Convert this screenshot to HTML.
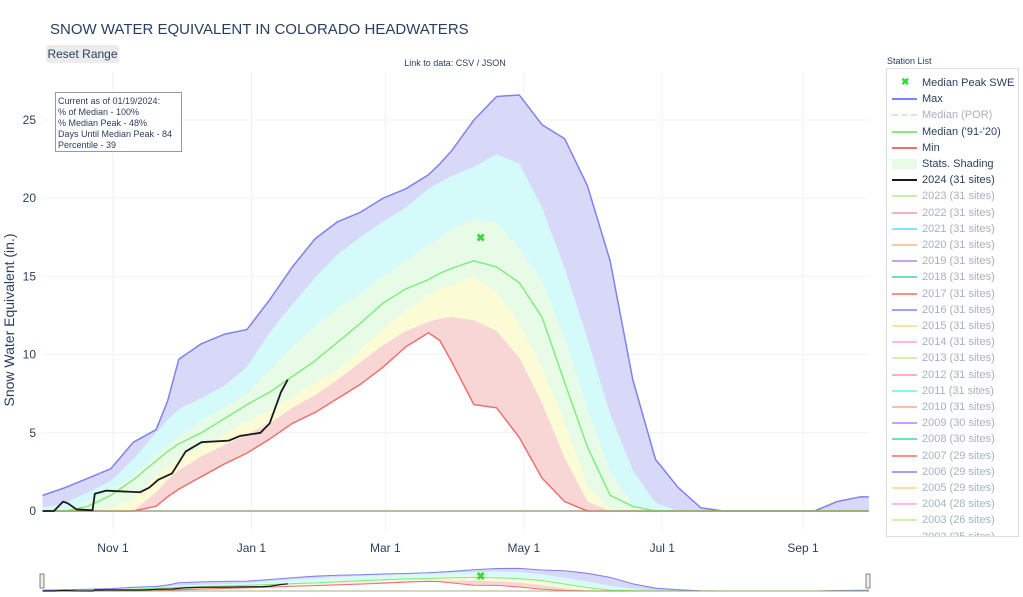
<!DOCTYPE html>
<html><head><meta charset="utf-8">
<style>
body{margin:0;width:1023px;height:597px;overflow:hidden;background:#fff;font-family:"Liberation Sans",sans-serif;}
svg{position:absolute;left:0;top:0}
</style></head>
<body>
<svg id="chart" width="1023" height="597"></svg>
<script>
const days=[0,10,20,30,40,50,55,60,70,80,90,100,110,120,130,140,150,160,170,175,180,190,200,210,220,230,240,250,260,270,280,290,300,310,320,330,340,350,360,364];
const maxVals=[1.0,1.5,2.1,2.7,4.4,5.2,7.0,9.7,10.7,11.3,11.6,13.5,15.6,17.4,18.5,19.1,20.0,20.6,21.5,22.2,23.0,25.0,26.5,26.6,24.7,23.8,20.8,16.0,8.4,3.3,1.5,0.2,0,0,0,0,0,0.6,0.9,0.9];
const p90Vals=[0.2,0.5,1.2,1.9,3.3,5.0,5.8,6.5,7.2,8.0,9.2,11.4,13.2,14.9,16.4,17.5,18.5,19.4,20.6,21.0,21.4,22.0,22.8,22.2,19.4,15.5,11.0,6.2,2.6,0.5,0,0,0,0,0,0,0,0,0,0];
const p70Vals=[0,0.1,0.6,1.3,2.2,3.6,4.2,4.7,5.8,6.6,7.5,9.0,10.5,11.8,13.0,13.9,15.0,16.0,17.0,17.5,18.0,18.7,18.4,16.8,14.7,11.0,6.5,2.5,0.4,0,0,0,0,0,0,0,0,0,0,0];
const medianVals=[0,0,0.3,1.0,2.0,3.2,3.8,4.3,5.0,5.9,6.8,7.6,8.6,9.6,10.8,12.0,13.3,14.2,14.8,15.2,15.5,16.0,15.6,14.6,12.4,8.2,4.1,1.0,0.3,0,0,0,0,0,0,0,0,0,0,0];
const p30Vals=[0,0,0,0.1,0.8,2.2,2.8,3.3,4.1,4.9,5.7,6.4,7.3,8.2,9.0,10.3,11.6,12.8,13.8,14.2,14.4,15.0,14.0,12.0,9.2,5.6,1.6,0.1,0,0,0,0,0,0,0,0,0,0,0,0];
const p10Vals=[0,0,0,0,0,1.2,2.0,2.6,3.5,4.2,4.9,5.6,6.6,7.4,8.4,9.5,10.6,11.5,12.1,12.3,12.4,12.2,11.5,9.8,6.9,3.4,0.6,0,0,0,0,0,0,0,0,0,0,0,0,0];
const minVals=[0,0,0,0,0,0.3,0.9,1.4,2.2,3.0,3.7,4.6,5.6,6.3,7.2,8.1,9.2,10.5,11.4,10.9,9.6,6.8,6.6,4.7,2.1,0.6,0,0,0,0,0,0,0,0,0,0,0,0,0,0];
const days2024=[0,5,9,11,15,22,23,28,43,47,51,57,63,70,82,87,96,100,105,108];
const vals2024=[0,0,0.6,0.5,0.1,0.05,1.1,1.3,1.2,1.5,2.0,2.4,3.8,4.4,4.5,4.8,5.0,5.6,7.6,8.4];
const peakDay=[193], peakVal=[17.5];
const yTicks=[0,5,10,15,20,25];
const xTickDays=[31,92,151,212,273,335];
const xTickLabels=["Nov 1","Jan 1","Mar 1","May 1","Jul 1","Sep 1"];
const legendNames=["Median Peak SWE","Max","Median (POR)","Median ('91-'20)","Min","Stats. Shading","2024 (31 sites)","2023 (31 sites)","2022 (31 sites)","2021 (31 sites)","2020 (31 sites)","2019 (31 sites)","2018 (31 sites)","2017 (31 sites)","2016 (31 sites)","2015 (31 sites)","2014 (31 sites)","2013 (31 sites)","2012 (31 sites)","2011 (31 sites)","2010 (31 sites)","2009 (30 sites)","2008 (30 sites)","2007 (29 sites)","2006 (29 sites)","2005 (29 sites)","2004 (28 sites)","2003 (26 sites)","2002 (25 sites)"];

const NS="http://www.w3.org/2000/svg";
const svg=document.getElementById('chart');
function mk(tag,attrs,parent){const e=document.createElementNS(NS,tag);for(const k in attrs)e.setAttribute(k,attrs[k]);(parent||svg).appendChild(e);return e;}
const X0=42.6,XS=2.27,Y0=511,YS=15.64;
const xs=d=>X0+d*XS, ys=v=>Y0-v*YS;
const ms=v=>591-v*0.85;

yTicks.forEach(t=>{
  const g=mk('line',{x1:42,x2:869,y1:ys(t),y2:ys(t),stroke:t===0?'#dde3ec':'#eef2f8','stroke-width':t===0?2:1});
  
  const l=mk('text',{x:36,y:ys(t)+4,'text-anchor':'end','font-size':12,fill:'#2a3f5f'});
  l.textContent=t;
});
xTickDays.forEach((d,i)=>{
  const g=mk('line',{x1:xs(d),x2:xs(d),y1:72,y2:530,stroke:'#eef2f8','stroke-width':1});
  
  const l=mk('text',{x:xs(d),y:552,'text-anchor':'middle','font-size':12,fill:'#2a3f5f'});
  l.textContent=xTickLabels[i];
});

function band(lo,hi,fill,name,sy){
  let p='M'+days.map((d,i)=>xs(d)+','+sy(hi[i])).join('L');
  for(let i=days.length-1;i>=0;i--)p+='L'+xs(days[i])+','+sy(lo[i]);
  const e=mk('path',{d:p+'Z',fill:fill,stroke:'none'});
  
}
function line(dd,vv,color,w,name,sy){
  const e=mk('path',{d:'M'+dd.map((d,i)=>xs(d)+','+sy(vv[i])).join('L'),fill:'none',stroke:color,'stroke-width':w,'stroke-linejoin':'round'});
  
}
function drawAll(sy,lw,pref){
  band(p90Vals,maxVals,'#d8d8f8',pref+'band-90-max',sy);
  band(p70Vals,p90Vals,'#d4fafa',pref+'band-70-90',sy);
  band(p30Vals,p70Vals,'#e8fbe6',pref+'band-30-70',sy);
  band(p10Vals,p30Vals,'#fbfbd6',pref+'band-10-30',sy);
  band(minVals,p10Vals,'#f9d6d6',pref+'band-min-10',sy);
  line(days,maxVals,'#8080f0',lw*1.5,pref+'max-line',sy);
  line(days,minVals,'#f07070',lw*1.5,pref+'min-line',sy);
  line(days,medianVals,'#80ee80',lw*1.5,pref+'median-line',sy);
  line(days,days.map(()=>0),'#8a9a50',lw,pref+'zero-line',sy);
  line(days2024,vals2024,'#1a1a1a',lw*1.8,pref+'line-2024',sy);
  const m=mk('text',{x:xs(peakDay[0]),y:sy(peakVal[0])+4,'text-anchor':'middle','font-size':11,'font-weight':'bold',fill:'#33dd33'});
  m.textContent='✖';
}
drawAll(ys,1,'');
drawAll(ms,0.7,'slider-');
</script>
<svg width="1023" height="597" style="pointer-events:none">
  <text x="50" y="34" font-size="15" fill="#2a3f5f">SNOW WATER EQUIVALENT IN COLORADO HEADWATERS</text>
  <text x="455" y="66" font-size="9" fill="#2a3f5f" text-anchor="middle">Link to data: CSV / JSON</text>
  <text transform="translate(14,320) rotate(-90)" font-size="14" fill="#2a3f5f" text-anchor="middle">Snow Water Equivalent (in.)</text>
  <g>
    <rect x="55.5" y="92.5" width="126" height="59" fill="#fff" stroke="#999" stroke-width="1"/>
    <text font-size="9" fill="#2a3f5f"><tspan x="58" y="104">Current as of 01/19/2024:</tspan><tspan x="58" y="115">% of Median - 100%</tspan><tspan x="58" y="126">% Median Peak - 48%</tspan><tspan x="58" y="137">Days Until Median Peak - 84</tspan><tspan x="58" y="148">Percentile - 39</tspan></text>
  </g>
  <g>
    <rect x="40" y="574" width="4" height="14" fill="#eee" stroke="#666" stroke-width="0.8"/>
    <rect x="866" y="574" width="4" height="14" fill="#eee" stroke="#666" stroke-width="0.8"/>
  </g>
</svg>
<div style="position:absolute;left:46px;top:45px;width:73px;height:18px;background:#ececec;border-radius:3px;font-size:12px;color:#2a3f5f;line-height:18px;text-align:center">Reset Range</div>
<div style="position:absolute;left:887px;top:56px;font-size:9px;color:#2a3f5f">Station List</div>
<div id="legend" style="position:absolute;left:886px;top:68px;width:131px;height:467px;border:1px solid #ddd;overflow:hidden;background:#fff"></div>
<script>
const legColors=['#33dd33','#8080f0','#ccf0cc','#80ee80','#f07070','#e8fbe6','#1a1a1a','#c8f0a8','#ffb0c0','#80e8f8','#ffc8a0','#c8a0ff','#70e0b8','#ff9080','#a0a0ff','#ffe0a0','#ffb8f0','#d0f0b0','#ffb0b8','#90f0f8','#ffc0a0','#c8a0ff','#70e0b8','#ff9080','#a0a0ff','#ffe0a0','#ffb8f0','#d0f0b0','#ffb0b0'];
const active=[0,1,3,4,5,6];
const leg=document.getElementById('legend');
legendNames.forEach((n,i)=>{
  const row=document.createElement('div');
  
  
  row.style.cssText='position:absolute;left:0;top:'+(6+i*16.2)+'px;height:16px;width:131px;font-size:11px;line-height:16px;white-space:nowrap;color:'+(active.includes(i)?'#2a3f5f':'#a8b0c0');
  let sym;
  if(i===0) sym='<span style="position:absolute;left:14px;top:0;color:#33dd33;font-size:10px;font-weight:bold">✖</span>';
  else if(i===2) sym='<span style="position:absolute;left:5px;top:7px;width:25px;border-top:2px dashed #ccf0cc"></span>';
  else if(i===5) sym='<span style="position:absolute;left:5px;top:3px;width:25px;height:10px;background:#e8fbe6"></span>';
  else sym='<span style="position:absolute;left:5px;top:7px;width:25px;height:2px;background:'+legColors[i]+'"></span>';
  row.innerHTML=sym+'<span style="position:absolute;left:35px">'+n+'</span>';
  leg.appendChild(row);
});
</script>
</body></html>
